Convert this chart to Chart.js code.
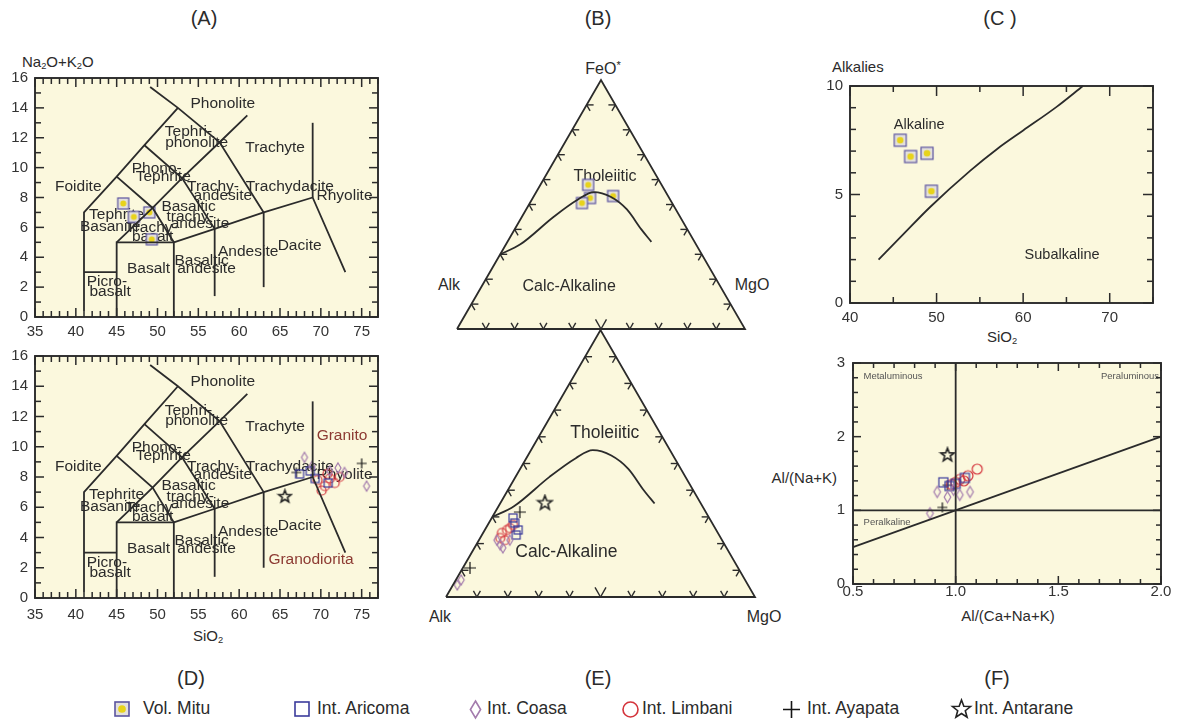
<!DOCTYPE html>
<html>
<head>
<meta charset="utf-8">
<title>Geochemical classification diagrams</title>
<script src="https://cdn.jsdelivr.net/npm/chart.js@4.4.1/dist/chart.umd.min.js"></script>
<style>
  body { margin: 0; width: 1177px; height: 720px; position: relative; overflow: hidden; background: #fff;
         font-family: "Liberation Sans", Arial, sans-serif; color: #2b2b2b; }
  canvas { position: absolute; }
  .t { position: absolute; white-space: nowrap; line-height: 1; }
  .ttl { font-size: 20px; transform: translate(-50%, -50%); }
  .lab { font-size: 15px; }
  .big { font-size: 16px; }
  .mid { transform: translate(-50%, -50%); }
  .vmid { transform: translateY(-50%); }
  sub { font-size: 62%; vertical-align: -0.3em; line-height: 0; }
  sup { font-size: 70%; vertical-align: 0.45em; line-height: 0; }
  .leg { position: absolute; top: 709px; transform: translateY(-50%); font-size: 17.5px; white-space: nowrap; line-height: 1; }
</style>
</head>
<body>
<div class="t ttl" style="left:204px;top:18px">(A)</div>
<div class="t ttl" style="left:598px;top:18px">(B)</div>
<div class="t ttl" style="left:1000px;top:18px">(C )</div>
<div class="t ttl" style="left:191px;top:678px">(D)</div>
<div class="t ttl" style="left:598px;top:678px">(E)</div>
<div class="t ttl" style="left:997px;top:678px">(F)</div>

<div class="t lab vmid" style="left:22px;top:61px">Na<sub>2</sub>O+K<sub>2</sub>O</div>
<div class="t lab mid" style="left:208px;top:635px">SiO<sub>2</sub></div>
<div class="t lab vmid" style="left:832px;top:66px">Alkalies</div>
<div class="t lab mid" style="left:1002px;top:336px">SiO<sub>2</sub></div>
<div class="t lab vmid" style="right:340px;top:477px">Al/(Na+K)</div>
<div class="t lab mid" style="left:1008px;top:615px">Al/(Ca+Na+K)</div>
<div class="t big mid" style="left:603px;top:69px">FeO<sup>*</sup></div>
<div class="t big mid" style="left:449px;top:285px">Alk</div>
<div class="t big mid" style="left:752px;top:285px">MgO</div>
<div class="t big mid" style="left:440px;top:617px">Alk</div>
<div class="t big mid" style="left:764px;top:617px">MgO</div>

<script>
const FONT = '"Liberation Sans", Arial, sans-serif';
const INK = '#2b2b2b';
const PAPER = '#fbf8dd';

// ---------- (A) / (D)  TAS diagram ----------
const tasXTicks = [35, 40, 45, 50, 55, 60, 65, 70, 75];
const tasYTicks = [0, 2, 4, 6, 8, 10, 12, 14, 16];
const tasLines = [
  [[41, 0.4], [41, 7], [45, 9.4], [48.4, 11.5], [52.5, 14]],
  [[41, 3], [45, 3]],
  [[45, 0], [45, 5], [52, 5], [52, 0]],
  [[52, 5], [57, 5.9], [63, 7], [69, 8], [73, 3]],
  [[57, 1.4], [57, 5.9]],
  [[63, 2], [63, 7]],
  [[69, 8], [69, 13]],
  [[45, 5], [49.4, 7.3], [53, 9.3], [57.6, 11.7], [61, 13.5]],
  [[45, 9.4], [49.4, 7.3], [52, 5]],
  [[48.4, 11.5], [53, 9.3], [57, 5.9]],
  [[49.1, 15.4], [52.5, 14], [57.6, 11.7], [63, 7]]
];
const tasNames = [
  ['Phonolite', 58.0, 14.3], ['Tephri-', 53.8, 12.4], ['phonolite', 54.8, 11.7],
  ['Trachyte', 64.4, 11.3], ['Foidite', 40.3, 8.7], ['Phono-', 49.9, 9.95], ['Tephrite', 50.7, 9.4],
  ['Trachy-', 56.8, 8.7], ['andesite', 58.0, 8.15], ['Trachydacite', 66.2, 8.7], ['Rhyolite', 72.9, 8.15],
  ['Basaltic', 53.8, 7.4], ['trachy-', 54.0, 6.7], ['andesite', 55.2, 6.25],
  ['Tephrite', 45.0, 6.85], ['Basanite', 44.2, 6.05], ['Trachy-', 49.3, 6.0], ['basalt', 49.4, 5.35],
  ['Basalt', 48.9, 3.25], ['Basaltic', 55.4, 3.8], ['andesite', 56.0, 3.25],
  ['Andesite', 61.1, 4.35], ['Dacite', 67.4, 4.8], ['Picro-', 43.8, 2.35], ['basalt', 44.2, 1.7]
];
const rockNames = [['Granito', 72.6, 10.7], ['Granodiorita', 68.8, 2.5]];

const mituTas = [[45.8, 7.6], [47.1, 6.7], [49.0, 7.0], [49.3, 5.2]];
const coasaTas = [[68.0, 9.3], [68.9, 8.7], [71.1, 8.4], [72.1, 8.6], [72.9, 8.3], [75.6, 7.4]];
const aricomaTas = [[67.4, 8.2], [68.7, 8.4], [69.3, 7.9], [70.9, 7.6]];
const limbaniTas = [[69.6, 7.8], [70.1, 7.1], [70.5, 7.4], [70.8, 8.2], [71.1, 7.9], [71.7, 7.6], [72.3, 8.0]];
const ayapataTas = [[67.0, 8.3], [75.0, 8.9]];
const antaraneTas = [[65.6, 6.7]];

// ---------- (B) / (E)  AFM ternary, [Alk, FeO*, MgO] % ----------
const afmTicks = [10, 20, 30, 40, 50, 60, 70, 80, 90];
const afmCorners = [[100, 0, 0], [0, 0, 100], [0, 100, 0]];
const afmCurve = [[70, 30, 0], [61, 34, 5], [44, 45, 11], [32, 52, 16], [25, 55, 20],
                  [20, 53, 27], [17, 48, 35], [16, 40, 44], [15, 35, 50]];
const afmNames = [['Tholeiitic', 17.9, 61.4, 20.7], ['Calc-Alkaline', 52.6, 16.9, 30.5]];

const mituAfm = [[25.5, 57.9, 16.6], [27.5, 52.6, 19.9], [31.3, 50.6, 18.1], [19.1, 53.4, 27.5]];
const coasaAfm = [[72.7, 19.5, 7.8], [72.4, 18.4, 9.2], [72.9, 21.3, 5.8], [68.7, 21.3, 10.0], [91.9, 6.4, 1.7], [94.1, 4.5, 1.4]];
const aricomaAfm = [[63.9, 27.7, 8.4], [64.1, 25.1, 10.8], [63.5, 29.6, 6.9], [65.7, 23.2, 11.1]];
const limbaniAfm = [[69.9, 24.0, 6.1], [67.7, 25.1, 7.2], [70.3, 21.3, 8.4], [66.4, 25.8, 7.8], [71.4, 22.1, 6.5], [64.8, 27.0, 8.2]];
const ayapataAfm = [[60.2, 31.8, 8.0], [86.8, 10.9, 2.3]];
const antaraneAfm = [[50.4, 35.2, 14.4]];

// ---------- (C)  Alkalies vs SiO2 ----------
const alkXTicks = [40, 50, 60, 70];
const alkYTicks = [0, 5, 10];
const alkLine = [[43.3, 2.0], [46.0, 3.1], [49.2, 4.4], [53.9, 6.1], [57.0, 7.1], [60.0, 7.95], [63.9, 9.05], [66.9, 10.0]];
const alkNames = [['Alkaline', 48.0, 8.2], ['Subalkaline', 64.5, 2.2]];
const mituAlk = [[45.8, 7.5], [47.0, 6.75], [48.9, 6.9], [49.4, 5.15]];

// ---------- (F)  Shand index ----------
const asiXTicks = [0.5, 1.0, 1.5, 2.0];
const asiYTicks = [0, 1, 2, 3];
const asiLines = [[[1, 0], [1, 3]], [[0.5, 1], [2, 1]], [[0.5, 0.5], [2, 2]]];
const asiNames = [['Metaluminous', 0.695, 2.82], ['Peraluminous', 1.849, 2.82], ['Peralkaline', 0.666, 0.84]];
const coasaAsi = [[0.91, 1.25], [0.96, 1.18], [1.07, 1.25], [0.875, 0.96], [1.02, 1.21], [0.99, 1.28]];
const aricomaAsi = [[0.94, 1.38], [1.045, 1.44], [1.0, 1.36], [0.97, 1.33]];
const limbaniAsi = [[1.105, 1.56], [1.06, 1.47], [1.0, 1.38], [1.02, 1.42], [0.98, 1.35], [1.04, 1.40]];
const ayapataAsi = [[0.935, 1.04], [0.96, 1.34]];
const antaraneAsi = [[0.96, 1.75]];

// ---------- legend ----------
const legendItems = [['Vol. Mitu', 'mitu'], ['Int. Aricoma', 'aricoma'], ['Int. Coasa', 'coasa'],
                     ['Int. Limbani', 'limbani'], ['Int. Ayapata', 'ayapata'], ['Int. Antarane', 'antarane']];

// ---------- helpers ----------
const K = Math.sqrt(3) / 2;
const xy = arr => arr.map(([x, y]) => ({ x, y }));
const tern = ([a, f, m]) => { const s = a + f + m; return { x: (m + f / 2) / s, y: f / s * K }; };
const terns = arr => arr.map(tern);

function icon(kind, s) {
  const c = document.createElement('canvas');
  c.width = c.height = Math.ceil(s + 4);
  const g = c.getContext('2d'), m = c.width / 2, r = s / 2;
  g.lineWidth = s > 12 ? 1.6 : 1.2;
  g.beginPath();
  if (kind === 'mitu') {
    g.fillStyle = '#e3e0dc'; g.fillRect(m - r, m - r, s, s);
    g.strokeStyle = '#5b54a0'; g.strokeRect(m - r, m - r, s, s);
    g.fillStyle = '#e8d31a'; g.arc(m, m, r * 0.55, 0, 7); g.fill();
  } else if (kind === 'aricoma') {
    g.strokeStyle = '#3b3b9c'; g.strokeRect(m - r, m - r, s, s);
  } else if (kind === 'coasa') {
    g.strokeStyle = '#a37bad';
    g.moveTo(m, m - r); g.lineTo(m + r * 0.6, m); g.lineTo(m, m + r); g.lineTo(m - r * 0.6, m); g.closePath(); g.stroke();
  } else if (kind === 'limbani') {
    g.strokeStyle = '#d4343c'; g.arc(m, m, r, 0, 7); g.stroke();
  } else if (kind === 'ayapata') {
    g.strokeStyle = '#151515';
    g.moveTo(m - r, m); g.lineTo(m + r, m); g.moveTo(m, m - r); g.lineTo(m, m + r); g.stroke();
  } else {
    g.strokeStyle = '#222';
    for (let i = 0; i < 10; i++) {
      const rr = i % 2 ? r * 0.42 : r, an = -Math.PI / 2 + i * Math.PI / 5;
      g[i ? 'lineTo' : 'moveTo'](m + rr * Math.cos(an), m + rr * Math.sin(an));
    }
    g.closePath(); g.stroke();
  }
  return c;
}

const lineDs = (data, smooth) => ({ data, showLine: true, borderColor: INK, borderWidth: 1.8, pointRadius: 0,
  fill: false, clip: false, tension: smooth ? 0.4 : 0, cubicInterpolationMode: smooth ? 'monotone' : 'default' });
const markDs = (data, kind, s) => ({ data, showLine: false, pointStyle: icon(kind, s), pointRadius: 5, clip: false });

// inward tick marks on two opposite sides of a box plot
function innerTicks(ctx, a, sc, lo, hi, minor, major, l1, l2) {
  const n = Math.round((hi - lo) / minor);
  const first = Math.ceil(lo / minor - 1e-9);
  for (let i = 0; i <= n; i++) {
    const v = (first + i) * minor;
    if (v > hi + 1e-9) break;
    const q = v / major;
    const len = Math.abs(q - Math.round(q)) < 1e-6 ? l2 : l1;
    const p = sc.getPixelForValue(v);
    if (sc.axis === 'x') {
      ctx.fillRect(p - 0.75, a.bottom - len, 1.5, len);
      ctx.fillRect(p - 0.75, a.top, 1.5, len);
    } else {
      ctx.fillRect(a.left, p - 0.75, len, 1.5);
      ctx.fillRect(a.right - len, p - 0.75, len, 1.5);
    }
  }
}

// one decoration plugin per chart: paper, region names, ticks and frame
function decor(cfg) {
  const place = (chart, c) => {
    const p = cfg.tri ? tern(c) : { x: c[0], y: c[1] };
    return { x: chart.scales.x.getPixelForValue(p.x), y: chart.scales.y.getPixelForValue(p.y) };
  };
  return {
    id: 'decor',
    beforeDatasetsDraw(chart) {
      const { ctx, chartArea: a } = chart;
      ctx.save();
      ctx.fillStyle = PAPER;
      if (cfg.tri) {
        const pts = chart.getDatasetMeta(0).data;
        ctx.beginPath();
        pts.forEach((p, i) => i ? ctx.lineTo(p.x, p.y) : ctx.moveTo(p.x, p.y));
        ctx.closePath(); ctx.fill();
      } else {
        ctx.fillRect(a.left, a.top, a.width, a.height);
      }
      ctx.textAlign = 'center'; ctx.textBaseline = 'middle';
      (cfg.labels || []).forEach(grp => {
        ctx.font = grp.size + 'px ' + FONT;
        ctx.fillStyle = grp.color || INK;
        grp.list.forEach(([t, ...c]) => { const p = place(chart, c); ctx.fillText(t, p.x, p.y); });
      });
      ctx.restore();
    },
    afterDraw(chart) {
      const { ctx, chartArea: a } = chart;
      const x = chart.scales.x, y = chart.scales.y;
      ctx.save();
      ctx.strokeStyle = INK;
      ctx.fillStyle = INK;
      ctx.lineWidth = 1.4;
      if (cfg.tri) {
        const arm = (px, py, dirs, L) => dirs.forEach(([dx, dy]) => {
          ctx.beginPath(); ctx.moveTo(px, py); ctx.lineTo(px + dx * L, py + dy * L); ctx.stroke();
        });
        afmTicks.forEach(t => {
          const f = t / 100;
          arm(x.getPixelForValue(f), y.getPixelForValue(0), [[0.5, -K], [-0.5, -K]], t === 50 ? 11 : 7);
          arm(x.getPixelForValue(f / 2), y.getPixelForValue(f * K), [[1, 0], [0.5, K]], 7);
          arm(x.getPixelForValue(1 - f / 2), y.getPixelForValue(f * K), [[-1, 0], [-0.5, K]], 7);
        });
      } else {
        innerTicks(ctx, a, x, cfg.xr[0], cfg.xr[1], cfg.xs[0], cfg.xs[1], cfg.len[0], cfg.len[1]);
        innerTicks(ctx, a, y, cfg.yr[0], cfg.yr[1], cfg.ys[0], cfg.ys[1], cfg.len[0], cfg.len[1]);
        ctx.lineWidth = 1.9;
        ctx.strokeRect(a.left, a.top, a.width, a.height);
      }
      ctx.restore();
    }
  };
}

function axis(min, max, ticks, size, pad, fmt) {
  return {
    type: 'linear', min, max,
    grid: { display: false, drawTicks: false }, border: { display: false },
    ticks: { font: { family: FONT, size: 15 }, color: '#333', padding: pad, maxRotation: 0, autoSkip: false,
             callback: fmt || (v => String(v)) },
    afterBuildTicks: s => { s.ticks = ticks.map(v => ({ value: v })); },
    afterFit: s => { if (s.isHorizontal()) s.height = size; else s.width = size; }
  };
}

// rect = canvas [left, top, width, height]; area = plot [left, top, right, bottom] (page px)
function makeChart(rect, area, datasets, cfg) {
  const cv = document.createElement('canvas');
  cv.width = rect[2]; cv.height = rect[3];
  cv.style.left = rect[0] + 'px'; cv.style.top = rect[1] + 'px';
  document.body.appendChild(cv);
  let padding, scales;
  if (cfg.tri) {
    padding = { left: area[0] - rect[0], top: area[1] - rect[1], right: rect[0] + rect[2] - area[2], bottom: rect[1] + rect[3] - area[3] };
    scales = { x: { type: 'linear', display: false, min: 0, max: 1 }, y: { type: 'linear', display: false, min: 0, max: K } };
  } else {
    padding = { left: 0, top: area[1] - rect[1], right: rect[0] + rect[2] - area[2], bottom: 0 };
    scales = {
      x: axis(cfg.xr[0], cfg.xr[1], cfg.xt, rect[1] + rect[3] - area[3], cfg.pad[0], cfg.xfmt),
      y: axis(cfg.yr[0], cfg.yr[1], cfg.yt, area[0] - rect[0], cfg.pad[1])
    };
  }
  return new Chart(cv, {
    type: 'scatter',
    data: { datasets },
    options: {
      responsive: false, animation: false, events: [],
      layout: { padding },
      plugins: { legend: { display: false }, tooltip: { enabled: false } },
      scales
    },
    plugins: [decor(cfg)]
  });
}

// (A)
makeChart([0, 62, 392, 278], [35, 78, 378, 317],
  [...tasLines.map(l => lineDs(xy(l))), markDs(xy(mituTas), 'mitu', 11)],
  { xr: [35, 77], yr: [0, 16], xt: tasXTicks, yt: tasYTicks, pad: [6, 7], xs: [1, 5], ys: [1, 2], len: [6, 9],
    labels: [{ list: tasNames, size: 15.5 }] });

// (D)
makeChart([0, 340, 392, 282], [35, 355, 378, 598],
  [...tasLines.map(l => lineDs(xy(l))),
   markDs(xy(coasaTas), 'coasa', 10), markDs(xy(aricomaTas), 'aricoma', 8), markDs(xy(limbaniTas), 'limbani', 9),
   markDs(xy(ayapataTas), 'ayapata', 10), markDs(xy(antaraneTas), 'antarane', 13)],
  { xr: [35, 77], yr: [0, 16], xt: tasXTicks, yt: tasYTicks, pad: [8, 7], xs: [1, 5], ys: [1, 2], len: [6, 9],
    labels: [{ list: tasNames, size: 15.5 }, { list: rockNames, size: 15.5, color: '#8c3a32' }] });

// (B)
makeChart([420, 55, 370, 290], [457, 80, 745, 329],
  [lineDs(terns([...afmCorners, afmCorners[0]])), lineDs(terns(afmCurve), true), markDs(terns(mituAfm), 'mitu', 11)],
  { tri: true, labels: [{ list: afmNames, size: 16 }] });

// (E)
makeChart([420, 318, 370, 312], [446, 330, 755, 597],
  [lineDs(terns([...afmCorners, afmCorners[0]])), lineDs(terns(afmCurve), true),
   markDs(terns(coasaAfm), 'coasa', 10), markDs(terns(aricomaAfm), 'aricoma', 8), markDs(terns(limbaniAfm), 'limbani', 9),
   markDs(terns(ayapataAfm), 'ayapata', 12), markDs(terns(antaraneAfm), 'antarane', 15)],
  { tri: true, labels: [{ list: afmNames, size: 17.5 }] });

// (C)
makeChart([790, 60, 387, 270], [850, 86, 1153, 303],
  [lineDs(xy(alkLine), true), markDs(xy(mituAlk), 'mitu', 12)],
  { xr: [40, 75], yr: [0, 10], xt: alkXTicks, yt: alkYTicks, pad: [6, 7], xs: [5, 10], ys: [1, 5], len: [6, 10],
    labels: [{ list: alkNames, size: 14.5 }] });

// (F)
makeChart([790, 340, 387, 270], [853, 363, 1161, 584],
  [...asiLines.map(l => lineDs(xy(l))),
   markDs(xy(coasaAsi), 'coasa', 11), markDs(xy(aricomaAsi), 'aricoma', 9), markDs(xy(limbaniAsi), 'limbani', 10),
   markDs(xy(ayapataAsi), 'ayapata', 10), markDs(xy(antaraneAsi), 'antarane', 14)],
  { xr: [0.5, 2.0], yr: [0, 3], xt: asiXTicks, yt: asiYTicks, pad: [-1, 8], xs: [0.1, 0.5], ys: [0.2, 1], len: [5, 8],
    xfmt: v => v.toFixed(1), labels: [{ list: asiNames, size: 9.5, color: '#555' }] });

// legend
const legendX = [[122, 143], [302, 317], [475, 487], [630, 642], [791, 807], [961, 974]];
const legendSize = [14, 14, 17, 15, 17, 19];
legendItems.forEach(([label, kind], i) => {
  const ic = icon(kind, legendSize[i]);
  ic.style.left = (legendX[i][0] - ic.width / 2) + 'px';
  ic.style.top = (709 - ic.height / 2) + 'px';
  document.body.appendChild(ic);
  const d = document.createElement('div');
  d.className = 'leg'; d.style.left = legendX[i][1] + 'px'; d.textContent = label;
  document.body.appendChild(d);
});
</script>
</body>
</html>
